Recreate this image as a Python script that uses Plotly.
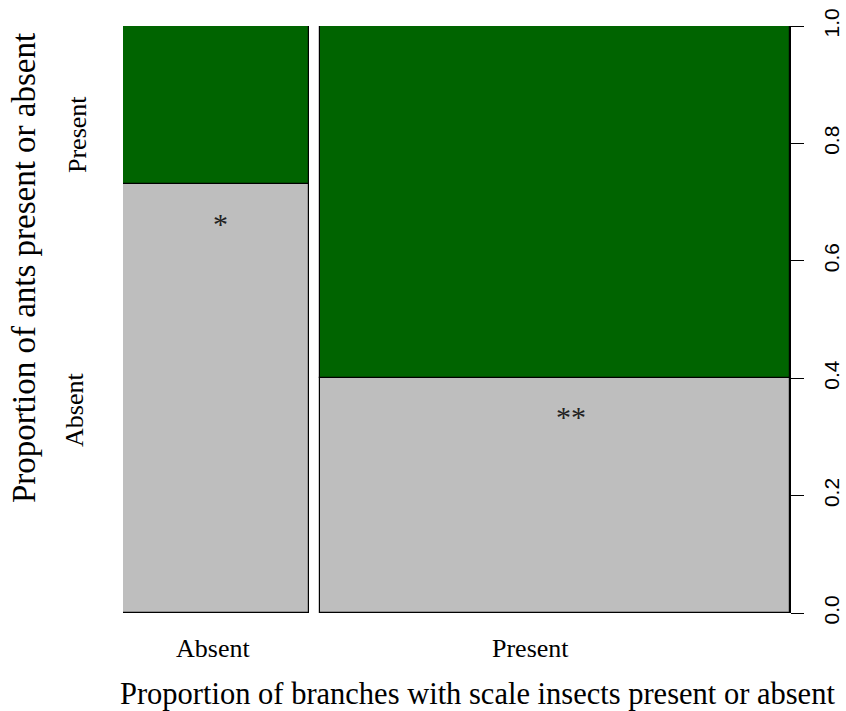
import plotly.graph_objects as go

# ---- data ----
scale_levels = ["Absent", "Present"]          # scale insects (x categories)
ant_levels = ["Absent", "Present"]            # ants (y categories)
col_share = [0.284, 0.716]                    # share of branches per scale-insect level
ants_absent_share = [0.73, 0.40]              # proportion of ants absent within each column
signif_marks = ["*", "**"]

GAP = 0.017
GRAY = "#BEBEBE"
GREEN = "#006400"
SERIF = "Liberation Serif, Times New Roman, serif"
SANS = "Liberation Sans, Arial, sans-serif"

centers = []
pos = 0.0
for w in col_share:
    centers.append(pos + w / 2)
    pos += w + GAP
xmax = pos - GAP

ants_present_share = [1 - a for a in ants_absent_share]

fig = go.Figure()
fig.add_trace(go.Bar(
    x=centers, y=ants_absent_share, width=col_share, base=[0, 0],
    marker=dict(color=GRAY, line=dict(color="black", width=1.2)),
    name=ant_levels[0], hoverinfo="skip"))
fig.add_trace(go.Bar(
    x=centers, y=ants_present_share, width=col_share, base=ants_absent_share,
    marker=dict(color=GREEN, line=dict(color="black", width=1.2)),
    name=ant_levels[1], hoverinfo="skip"))

W, H = 846, 711
L, R, T, B = 123, 790, 26, 613   # plot area in screen pixels


def px(xp):
    return (xp - L) / (R - L)


def py(yp):
    return (B - yp) / (B - T)


def note(x, y, text, size, xref="paper", yref="paper", angle=0, xanchor="center",
         family=SERIF, color="black"):
    return dict(x=x, y=y, xref=xref, yref=yref, text=text, showarrow=False,
                textangle=angle, xanchor=xanchor, yanchor="middle",
                font=dict(family=family, size=size, color=color))


ann = []
star_pos = [(0.1494, 0.663), (0.683, 0.334)]
for (sx, sy), m in zip(star_pos, signif_marks):
    ann.append(note(sx, sy, m, 30, xref="x", yref="y", color="#222"))
for lbl, xp in zip(scale_levels, [213, 530]):
    ann.append(note(px(xp), py(648), lbl, 26))
for lbl, (xp, yp) in zip(ant_levels, [(74, 410), (77, 135)]):
    ann.append(note(px(xp), py(yp), lbl, 26, angle=-90))
ann.append(note(px(24), py(268), "Proportion of ants present or absent", 33, angle=-90))
ann.append(note(px(118), py(694),
                "Proportion of branches with scale insects present or absent",
                30.5, xanchor="left"))

fig.update_layout(
    width=W, height=H,
    margin=dict(l=L, r=W - R, t=T, b=H - B, pad=0),
    paper_bgcolor="white", plot_bgcolor="white",
    barmode="overlay", bargap=0, showlegend=False,
    xaxis=dict(range=[0, xmax], visible=False, fixedrange=True),
    yaxis=dict(range=[0, 1], side="right", tickvals=[0, 0.2, 0.4, 0.6, 0.8, 1.0],
               ticktext=["0.0", "0.2", "0.4", "0.6", "0.8", "1.0"],
               ticks="outside", ticklen=13, tickwidth=1, tickcolor="black",
               tickangle=-90, showgrid=False, zeroline=False,
               showline=True, linecolor="black", linewidth=1,
               ticklabelstandoff=10, automargin=False,
               tickfont=dict(family=SANS, size=21, color="black")),
    annotations=ann,
)

fig.write_html("out.html", config={"displayModeBar": False},
               post_script="document.body.style.margin='0';document.body.style.overflow='hidden';")
